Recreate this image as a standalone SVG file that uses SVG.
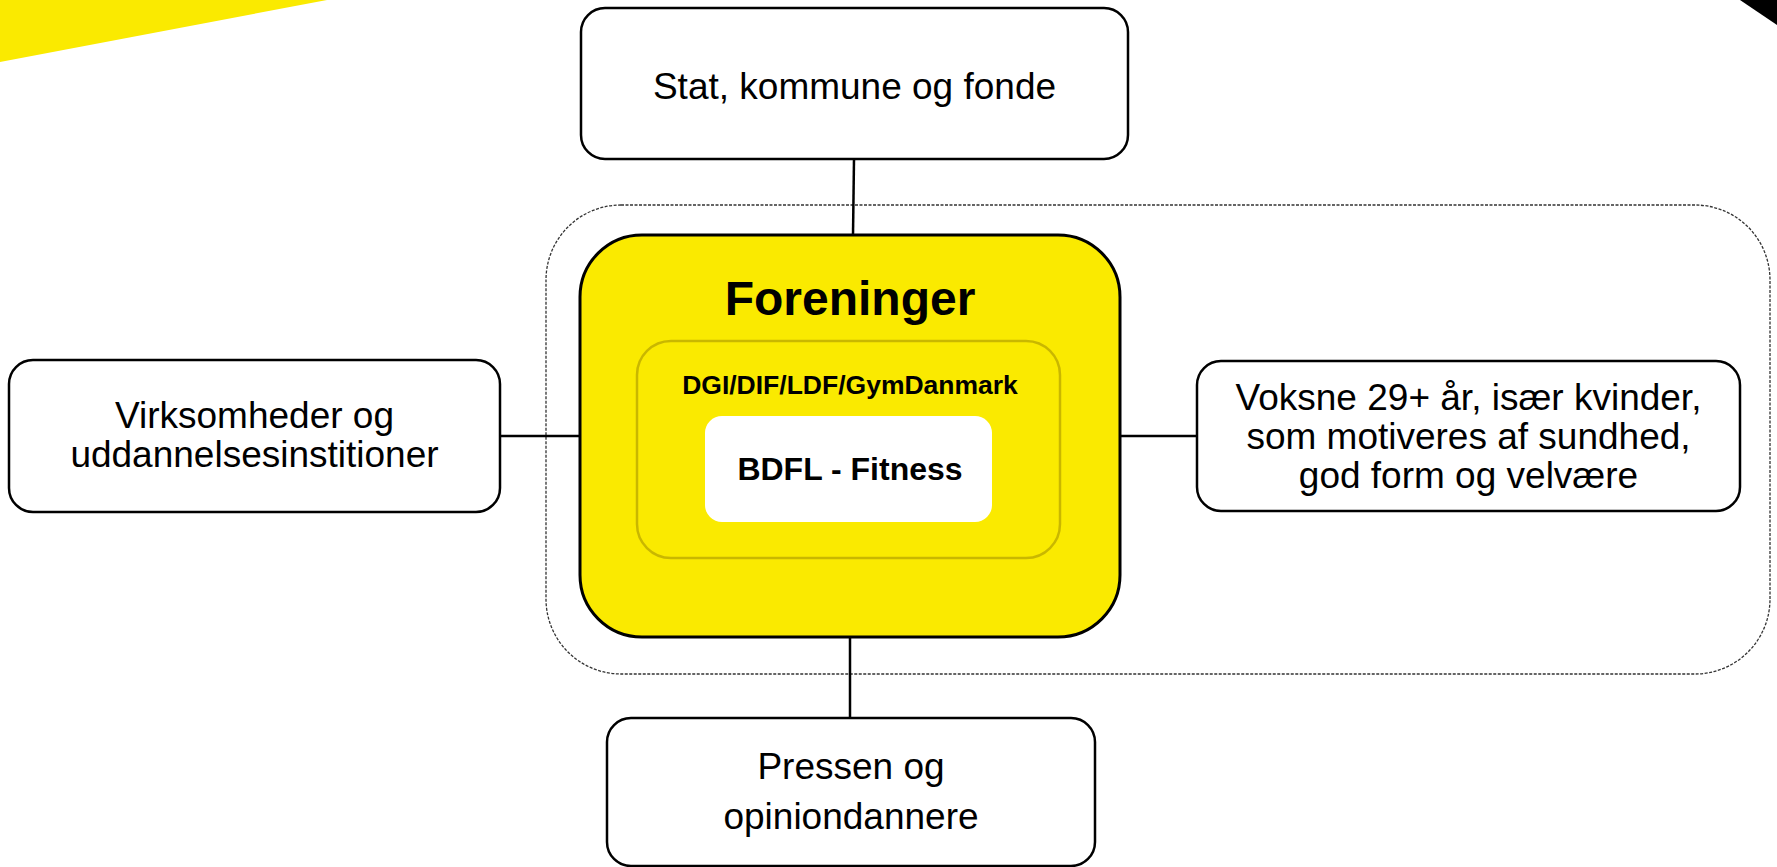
<svg xmlns="http://www.w3.org/2000/svg" width="1777" height="867" viewBox="0 0 1777 867">
<style>
.box{fill:#fff;stroke:#000;stroke-width:2.5}
.t{font-family:"Liberation Sans",Arial,sans-serif;font-size:37px;fill:#000;text-anchor:middle}
.b{font-family:"Liberation Sans",Arial,sans-serif;font-weight:bold;fill:#000;text-anchor:middle}
.con{stroke:#000;stroke-width:2.5;fill:none}
</style>
<rect width="1777" height="867" fill="#fff"/>
<polygon points="0,0 327,0 0,62" fill="#FAEA00"/>
<polygon points="1740,0 1777,0 1777,25" fill="#000"/>
<rect id="frame" x="546" y="205" width="1224" height="469" rx="75" ry="75" fill="none" stroke="#333" stroke-width="1.3" stroke-dasharray="3,1.5"/>
<g id="connectors">
<line class="con" x1="854" y1="159" x2="853" y2="235"/>
<line class="con" x1="500" y1="436" x2="580" y2="436"/>
<line class="con" x1="1120" y1="436" x2="1197" y2="436"/>
<line class="con" x1="850" y1="637" x2="850" y2="718"/>
</g>
<g id="stat">
<rect class="box" x="581" y="8" width="547" height="151" rx="24"/>
<text class="t" x="854.5" y="99">Stat, kommune og fonde</text>
</g>
<g id="foreninger">
<rect x="580" y="235" width="540" height="402" rx="62" fill="#FAEA00" stroke="#000" stroke-width="3"/>
<text class="b" x="850" y="315" font-size="48">Foreninger</text>
</g>
<g id="dgi">
<rect x="637" y="341" width="423" height="217" rx="34" fill="none" stroke="#C9B700" stroke-width="2.5"/>
<text class="b" x="850" y="394" font-size="26.5">DGI/DIF/LDF/GymDanmark</text>
</g>
<g id="bdfl">
<rect x="705" y="416" width="287" height="106" rx="17" fill="#fff"/>
<text class="b" x="850" y="480" font-size="32">BDFL - Fitness</text>
</g>
<g id="virksomheder">
<rect class="box" x="9" y="360" width="491" height="152" rx="24"/>
<text class="t" x="254.5" y="428">Virksomheder og</text>
<text class="t" x="254.5" y="467">uddannelsesinstitioner</text>
</g>
<g id="voksne">
<rect class="box" x="1197" y="361" width="543" height="150" rx="24"/>
<text class="t" x="1468.5" y="410">Voksne 29+ år, især kvinder,</text>
<text class="t" x="1468.5" y="449">som motiveres af sundhed,</text>
<text class="t" x="1468.5" y="488">god form og velvære</text>
</g>
<g id="pressen">
<rect class="box" x="607" y="718" width="488" height="148" rx="24"/>
<text class="t" x="851" y="779">Pressen og</text>
<text class="t" x="851" y="829">opiniondannere</text>
</g>
</svg>
